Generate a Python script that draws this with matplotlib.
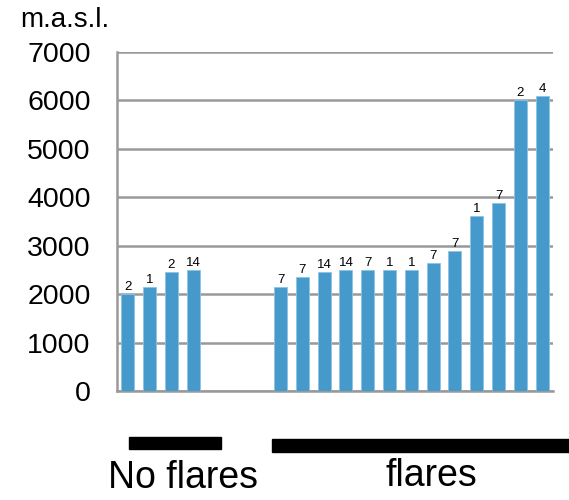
import matplotlib.pyplot as plt
import matplotlib.patches as patches

plt.rcParams['font.family'] = ['Liberation Sans', 'DejaVu Sans']

# Altitude (m.a.s.l.) of each site and the count shown above each bar
no_flare_heights = [2000, 2150, 2450, 2500]
no_flare_counts = ['2', '1', '2', '14']
flare_heights = [2140, 2360, 2450, 2500, 2500, 2500, 2500, 2640, 2900, 3620, 3880, 6000, 6100]
flare_counts = ['7', '7', '14', '14', '7', '1', '1', '7', '7', '1', '7', '2', '4']
gap_slots = 3

heights = no_flare_heights + [0] * gap_slots + flare_heights
counts = no_flare_counts + [''] * gap_slots + flare_counts
positions = [i for i in range(len(heights)) if counts[i] != '']

fig = plt.figure(figsize=(5.69, 5.0), dpi=100)
ax = fig.add_axes([0.2056, 0.218, 0.7664, 0.678])

bar_color = '#4599CB'
xs = positions
ys = [heights[i] for i in positions]
labs = [counts[i] for i in positions]
ax.bar(xs, ys, width=0.6, color=bar_color, edgecolor='#8cc3e6', linewidth=0.6, zorder=3)
for x, y, t in zip(xs, ys, labs):
    ax.text(x, y + 20, t, ha='center', va='bottom', fontsize=9.5, zorder=4)

ax.set_xlim(-0.5, len(heights) - 0.5)
ax.set_ylim(0, 7000)
ax.set_yticks(range(0, 7001, 1000))
ax.set_xticks([])
ax.tick_params(axis='y', labelsize=20.5, length=0, pad=19)
ax.yaxis.grid(True, color='#999999', linewidth=1.8, zorder=0)
for s in ['top', 'right']:
    ax.spines[s].set_visible(False)
for s in ['left', 'bottom']:
    ax.spines[s].set_color('#999999')
    ax.spines[s].set_linewidth(1.8)

fig.text(20 / 569, 1 - 27 / 500, 'm.a.s.l.', fontsize=20, ha='left', va='baseline')

# group markers under the axis
fig.add_artist(patches.Rectangle((129 / 569, 1 - 449 / 500), 92 / 569, 12 / 500,
                                 transform=fig.transFigure, color='black'))
fig.add_artist(patches.Rectangle((272 / 569, 1 - 452 / 500), 300 / 569, 13 / 500,
                                 transform=fig.transFigure, color='black'))
fig.text(183 / 569, 1 - 488 / 500, 'No flares', fontsize=27, ha='center', va='baseline')
fig.text(431 / 569, 1 - 486 / 500, 'flares', fontsize=27, ha='center', va='baseline')

fig.savefig('out.png', dpi=100)
